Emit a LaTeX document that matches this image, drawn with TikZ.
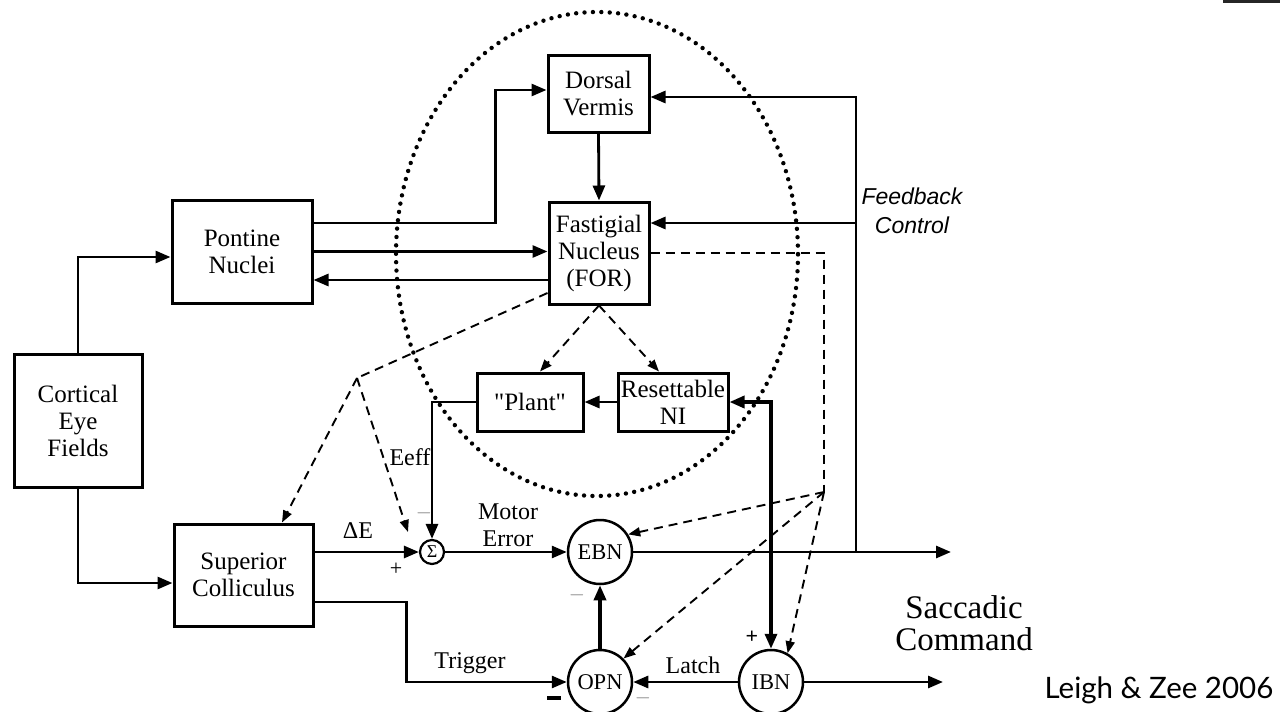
\documentclass[tikz,border=0pt]{standalone}
\usepackage{fontspec}
\setmainfont{Liberation Serif}
\newfontfamily\fbfont{Liberation Sans}
\newfontfamily\credfont{Lato}
\usetikzlibrary{arrows.meta,calc}
\begin{document}
\begin{tikzpicture}[x=1pt,y=-1pt,
  box/.style={draw, line width=3pt, align=center, inner sep=0pt,
    font=\fontsize{25}{27}\selectfont},
  neuron/.style={draw, circle, line width=2.5pt, minimum size=64pt, inner sep=0pt,
    font=\fontsize{22.5}{24}\selectfont},
  sumnode/.style={draw, circle, line width=2.2pt, minimum size=24pt, inner sep=0pt,
    font=\fontsize{18}{18}\selectfont},
  conn/.style={line width=2.8pt, -{Triangle[length=15pt,width=12pt]}},
  bold/.style={line width=3.4pt},
  dsh/.style={line width=1.9pt, dash pattern=on 9pt off 6pt},
  dshar/.style={dsh, -{Triangle[length=12pt,width=9pt]}},
  lbl/.style={inner sep=0pt, font=\fontsize{24}{26}\selectfont},
  sgn/.style={inner sep=0pt, font=\fontsize{22}{22}\selectfont},
]
\useasboundingbox (0,0) rectangle (1280,712);

% dotted ellipse (cerebellum)
\draw[line width=4.4pt, line cap=round, dash pattern=on 0pt off 8.4pt]
  (597,254) ellipse [x radius=201pt, y radius=242pt];

% boxes
\node[box, minimum width=101pt, minimum height=77pt] (dv) at (598.5,93.5) {Dorsal\\Vermis};
\node[box, minimum width=100pt, minimum height=102pt] (fn) at (599,253) {Fastigial\\Nucleus\\(FOR)};
\node[box, minimum width=140pt, minimum height=103pt] (pon) at (242,251.5) {Pontine\\Nuclei};
\node[box, minimum width=128pt, minimum height=133pt] (cef) at (78,420.5) {Cortical\\Eye\\Fields};
\node[box, minimum width=139pt, minimum height=102pt] (sc) at (243.5,575) {Superior\\Colliculus};
\node[box, minimum width=106pt, minimum height=58pt] (plant) at (530,402) {\textquotedbl Plant\textquotedbl};
\node[box, minimum width=110pt, minimum height=58pt] (rni) at (673,402) {Resettable\\NI};

% circles
\node[sumnode] (sig) at (432,552) {Σ};
\node[neuron] (ebn) at (600,552) {EBN};
\node[neuron] (opn) at (600,682) {OPN};
\node[neuron] (ibn) at (771,682) {IBN};

% helper coordinates
\coordinate (fbbot) at (856,552);
\coordinate (fbmid) at (856,223);
\coordinate (apex) at (357,378);
\coordinate (sigin) at (408,532);
\coordinate (dj) at (824,492);
\coordinate (ni1) at (771,402);
\coordinate (out1) at (951,552);
\coordinate (out2) at (943,682);

% solid connectors
\draw[conn] (cef.north) |- ([yshift=-5.5pt]pon.west);
\draw[conn] (cef.south) |- ([yshift=-8pt]sc.west);
\draw[conn] ([yshift=28.5pt]pon.east) -- ++(182,0) |- ([yshift=3.5pt]dv.west);
\draw[conn] (pon.east) -- (pon.east -| fn.west);
\draw[conn] ([yshift=-27pt]fn.west) -- ([yshift=-27pt]fn.west -| pon.east);
\draw[conn] (dv.south) -- (fn.north);
\draw[conn] (fbbot) |- ([yshift=-3.5pt]dv.east);
\draw[conn] (fbmid) -- (fbmid -| fn.east);
\draw[conn] (ebn.east) -- (out1);
\draw[conn] (ibn.east) -- (out2);
\draw[conn] (ibn.west) -- (opn.east);
\draw[conn, bold] (opn.north) -- (ebn.south);
\draw[conn] ([yshift=23pt]sc.east) -- (sig.west);
\draw[conn] (sig.east) -- (ebn.west);
\draw[conn] ([yshift=-27pt]sc.east) -- ++(92,0) |- (opn.west);
\draw[conn] (plant.west) -| (sig.north);
\draw[conn] (rni.west) -- (plant.east);
\draw[bold, {Triangle[length=15pt,width=12pt]}-{Triangle[length=15pt,width=12pt]}]
  (rni.east) -- (ni1) -- (ibn.north);

% dashed connectors
\draw[dsh] ([yshift=-40pt]fn.west) -- (apex);
\draw[dshar] (apex) -- ([xshift=38.5pt]sc.north);
\draw[dshar] (apex) -- (sigin);
\draw[dshar] (fn.south) -- ([xshift=10pt]plant.north);
\draw[dshar] (fn.south) -- ([xshift=-14pt]rni.north);
\draw[dsh] (fn.east) -| (dj);
\draw[dshar] (dj) -- (ebn.32);
\draw[dshar] (dj) -- (opn.45);
\draw[dshar] (dj) -- (ibn.60);

% labels
\node[lbl] (eeff) at (410,457) {Eeff};
\node[lbl] (motor) at (508,512) {Motor};
\node[lbl] (error) at (508,539) {Error};
\node[lbl] (de) at (358,531) {ΔE};
\node[sgn] (p1) at (396,569) {+};
\node[sgn, text=gray] (m1) at (424,513) {$-$};
\node[sgn, text=gray] (m2) at (577,595) {$-$};
\node[lbl] (trig) at (470,663) {Trigger};
\node[inner sep=0pt] (m3) at (554,698) {\rule{14pt}{3.2pt}};
\node[sgn, text=gray] (m4) at (643,698) {$-$};
\node[lbl] (latch) at (693,665) {Latch};
\node[sgn, font=\fontsize{22}{22}\selectfont\bfseries] (p2) at (752,637) {+};
\node[inner sep=0pt, font=\fbfont\itshape\fontsize{23}{29}\selectfont, align=center] (fb) at (912,211) {Feedback\\Control};
\node[inner sep=0pt, font=\fontsize{33}{32}\selectfont, align=center] (sac) at (964,623) {Saccadic\\Command};
\node[inner sep=0pt, font=\credfont\fontsize{29.5}{30}\selectfont] (cred) at (1159,690) {Leigh \& Zee 2006};

% small mark at top right
\fill[black!85] (1223,0) rectangle (1280,2.5);
\end{tikzpicture}
\end{document}
